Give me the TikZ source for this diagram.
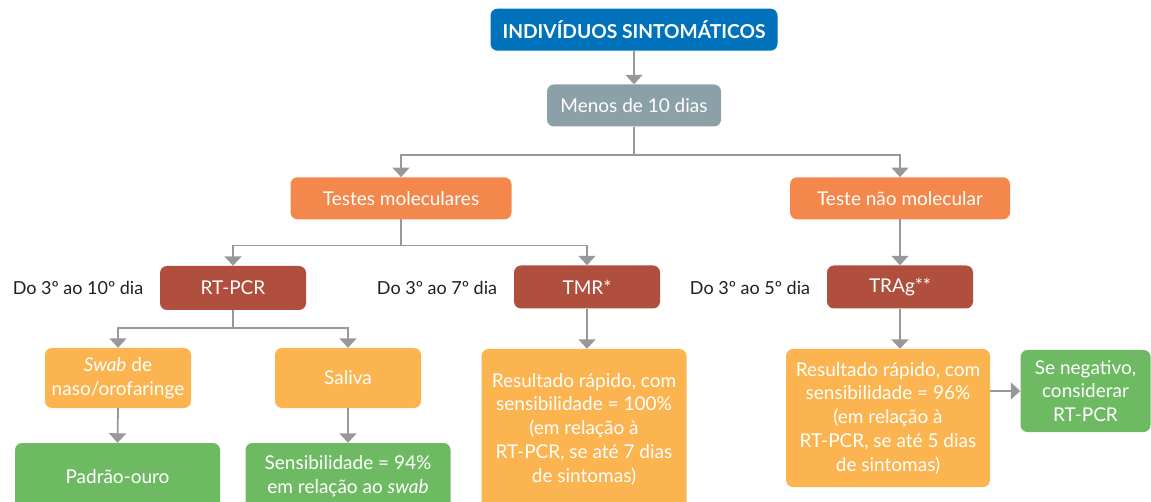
\documentclass[tikz,border=0pt]{standalone}
\usepackage{fontspec}
\setmainfont{Lato}
\usetikzlibrary{arrows.meta}
\definecolor{cblue}{RGB}{0,114,188}
\definecolor{cgray}{RGB}{140,160,168}
\definecolor{corange}{RGB}{244,135,75}
\definecolor{cred}{RGB}{176,79,62}
\definecolor{cyellow}{RGB}{251,180,79}
\definecolor{cgreen}{RGB}{109,186,99}
\definecolor{cline}{RGB}{152,152,155}
\definecolor{ctext}{RGB}{35,31,32}
\begin{document}
\begin{tikzpicture}[x=1pt,y=-1pt,
  box/.style={rounded corners=7pt, text=white, align=center, inner sep=0pt,
    font=\fontsize{19}{23.7}\selectfont},
  conn/.style={draw=cline, line width=1.8pt, -{Triangle[width=17pt,length=9.5pt]}},
  lbl/.style={font=\fontsize{18}{22}\selectfont, text=ctext, inner sep=0pt}]
\path[use as bounding box] (0,0) rectangle (1151,502);
\clip (0,0) rectangle (1151,502);

\node[box, fill=cblue, minimum width=287pt, minimum height=42pt,
  font=\fontsize{19.2}{20}\selectfont\bfseries] (title) at (634,29.7) {INDIVÍDUOS SINTOMÁTICOS};
\node[box, fill=cgray, minimum width=174pt, minimum height=42pt] (menos) at (634,105.5) {Menos de 10 dias};

\node[box, fill=corange, minimum width=221pt, minimum height=42pt] (mol) at (401,198.3) {Testes moleculares};
\node[box, fill=corange, minimum width=220pt, minimum height=42pt] (nmol) at (900,198.3) {Teste não molecular};

\node[box, fill=cred, minimum width=146pt, minimum height=44pt] (rtpcr) at (233,288) {RT-PCR};
\node[box, fill=cred, minimum width=146pt, minimum height=43pt] (tmr) at (587,287) {TMR*};
\node[box, fill=cred, minimum width=146pt, minimum height=43pt] (trag) at (900,287) {TRAg**};

\node[lbl] (l1) at (78,288) {Do 3º ao 10º dia};
\node[lbl] (l2) at (437,288) {Do 3º ao 7º dia};
\node[lbl] (l3) at (750,288) {Do 3º ao 5º dia};

\node[box, fill=cyellow, minimum width=146pt, minimum height=60pt] (swab) at (118,378) {\textit{Swab} de\\naso/orofaringe};
\node[box, fill=cyellow, minimum width=146pt, minimum height=60pt] (saliva) at (348,378) {Saliva};

\node[box, fill=cgreen, minimum width=205pt, minimum height=67pt] (padrao) at (117.5,476.5) {Padrão-ouro};
\node[box, fill=cgreen, minimum width=205pt, minimum height=67pt] (sens) at (348,476.5) {Sensibilidade = 94\%\\em relação ao \textit{swab}};

\node[box, fill=cyellow, minimum width=205pt, minimum height=160pt] (res100) at (584,429) {Resultado rápido, com\\sensibilidade = 100\%\\(em relação à\\RT-PCR, se até 7 dias\\de sintomas)};
\node[box, fill=cyellow, minimum width=204pt, minimum height=138pt] (res96) at (888,418) {Resultado rápido, com\\sensibilidade = 96\%\\(em relação à\\RT-PCR, se até 5 dias\\de sintomas)};
\node[box, fill=cgreen, minimum width=130pt, minimum height=82pt] (seneg) at (1085.5,391) {Se negativo,\\considerar\\RT-PCR};

\draw[conn] (title.south) -- (menos.north);
\draw[conn] (menos.south) -- ++(0,28.5) -| (mol.north);
\draw[conn] (menos.south) -- ++(0,28.5) -| (nmol.north);
\draw[conn] (mol.south) -- ++(0,26) -| (rtpcr.north);
\draw[conn] (mol.south) -- ++(0,26) -| (tmr.north);
\draw[conn] (nmol.south) -- (trag.north);
\draw[conn] (rtpcr.south) -- ++(0,18) -| (swab.north);
\draw[conn] (rtpcr.south) -- ++(0,18) -| (saliva.north);
\draw[conn] (swab.south) -- (padrao.north);
\draw[conn] (saliva.south) -- (sens.north);
\draw[conn] (tmr.south) -- (tmr.south |- res100.north);
\draw[conn] (trag.south) -- (trag.south |- res96.north);
\draw[conn] (res96.east |- seneg.west) -- (seneg.west);
\end{tikzpicture}
\end{document}
